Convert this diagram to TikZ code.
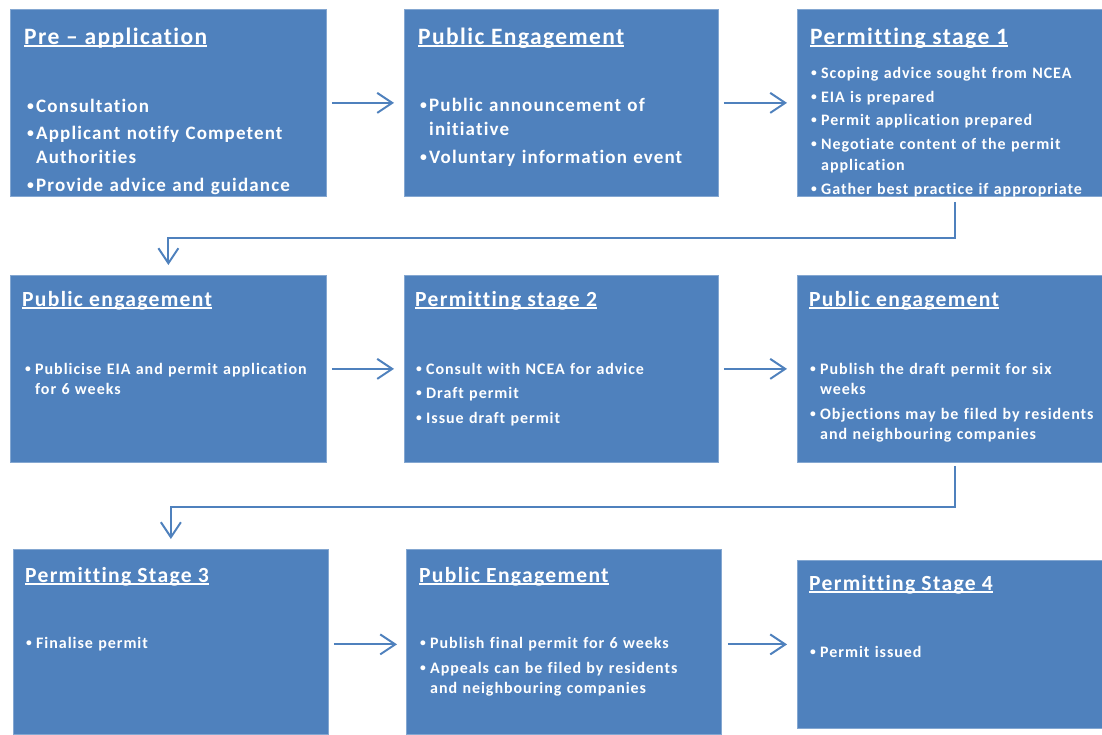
\documentclass[tikz,border=0pt]{standalone}
\usepackage{fontspec}
\usepackage{graphicx}
\setmainfont{Carlito}[LetterSpace=6, Ligatures=NoCommon]
\usetikzlibrary{arrows.meta}
\definecolor{boxblue}{HTML}{4F81BD}
% underlined heading: rule sits just under the baseline
\newcommand\ulhead[1]{\setbox0\hbox{#1}\rlap{\rule[-3pt]{\wd0}{1.6pt}}\box0}
% small bullet and continuation indent
\newcommand\bul[1][10pt]{\makebox[#1][l]{\raisebox{0.1em}{\scalebox{0.72}{\textbullet}}}}
\newcommand\cont[1][10pt]{\hspace*{#1}}
\tikzset{
  stagebox/.style={rectangle, fill=boxblue, draw=boxblue!70!white, line width=0.8pt,
    anchor=north west, inner sep=0pt},
  headL/.style={anchor=base west, inner sep=0pt, text=white,
    font=\fontsize{23.5}{28}\selectfont\bfseries},
  headS/.style={headL, font=\fontsize{21.6}{26}\selectfont\bfseries},
  bodyL/.style={anchor=base west, inner sep=0pt, text=white, align=left,
    text width=290pt, font=\fontsize{19}{24}\selectfont\bfseries},
  bodyS/.style={bodyL, font=\fontsize{16}{20}\selectfont\bfseries},
  flow/.style={draw=boxblue, line width=2pt,
    -{Straight Barb[length=15pt,width=20pt]}}
}
\begin{document}
\begin{tikzpicture}[x=1pt,y=-1pt]
\useasboundingbox (0,0) rectangle (1102,734);

% ---- stage boxes ----
\node[stagebox, minimum width=316pt, minimum height=187pt] (b1) at (10,9) {};
\node[stagebox, minimum width=314pt, minimum height=187pt] (b2) at (404,9) {};
\node[stagebox, minimum width=305pt, minimum height=187pt] (b3) at (797,9) {};
\node[stagebox, minimum width=316pt, minimum height=187pt] (b4) at (10,275) {};
\node[stagebox, minimum width=314pt, minimum height=187pt] (b5) at (404,275) {};
\node[stagebox, minimum width=305pt, minimum height=187pt] (b6) at (797,275) {};
\node[stagebox, minimum width=315pt, minimum height=185pt] (b7) at (13,549) {};
\node[stagebox, minimum width=315pt, minimum height=185pt] (b8) at (406,549) {};
\node[stagebox, minimum width=305pt, minimum height=168pt] (b9) at (797,560) {};

% ---- row 1 ----
\node[headL] (h1) at (24,44) {\ulhead{Pre – application}};
\node[bodyL] (l1) at (27,112) {\bul[9pt]Consultation\\[3.5pt]
  \bul[9pt]Applicant notify Competent\\ \cont[9pt]Authorities\\[3.5pt]
  \bul[9pt]Provide advice and guidance};

\node[headL] (h2) at (418,44) {\ulhead{Public Engagement}};
\node[bodyL] (l2) at (420,111) {\bul[9pt]Public announcement of\\ \cont[9pt]initiative\\[4pt]
  \bul[9pt]Voluntary information event};

\node[headL] (h3) at (810,44) {\ulhead{Permitting stage 1}};
\node[bodyS, text width=285pt, font=\fontsize{16}{21}\selectfont\bfseries] (l3) at (811,78)
  {\bul Scoping advice sought from NCEA\\[3pt]
   \bul EIA is prepared\\[2pt]
   \bul Permit application prepared\\[3pt]
   \bul Negotiate content of the permit\\ \cont application\\[3pt]
   \bul Gather best practice if appropriate};

% ---- row 2 ----
\node[headS] (h4) at (22,306) {\ulhead{Public engagement}};
\node[bodyS] (l4) at (25,374) {\bul Publicise EIA and permit application\\ \cont for 6 weeks};

\node[headS] (h5) at (415,306) {\ulhead{Permitting stage 2}};
\node[bodyS] (l5) at (416,374) {\bul Consult with NCEA for advice\\[4.5pt]
  \bul Draft permit\\[4.5pt]
  \bul Issue draft permit};

\node[headS] (h6) at (809,306) {\ulhead{Public engagement}};
\node[bodyS, text width=290pt] (l6) at (810,374) {\bul Publish the draft permit for six\\ \cont weeks\\[5pt]
  \bul Objections may be filed by residents\\ \cont and neighbouring companies};

% ---- row 3 ----
\node[headS] (h7) at (25,582) {\ulhead{Permitting Stage 3}};
\node[bodyS] (l7) at (26,648) {\bul Finalise permit};

\node[headS] (h8) at (419,582) {\ulhead{Public Engagement}};
\node[bodyS] (l8) at (420,648) {\bul Publish final permit for 6 weeks\\[5pt]
  \bul Appeals can be filed by residents\\ \cont and neighbouring companies};

\node[headS] (h9) at (809,590) {\ulhead{Permitting Stage 4}};
\node[bodyS] (l9) at (810,657) {\bul Permit issued};

% ---- connectors ----
\draw[flow, shorten <=5pt, shorten >=10pt] (b1) -- (b2);
\draw[flow, shorten <=5pt, shorten >=10pt] (b2) -- (b3);
\draw[flow, shorten <=5pt, shorten >=10pt] (b3.south) ++(5,0) -- ++(0,41) -| (b4.north);
\draw[flow, shorten <=5pt, shorten >=10pt] (b4) -- (b5);
\draw[flow, shorten <=5pt, shorten >=10pt] (b5) -- (b6);
\draw[flow, shorten <=3pt, shorten >=10pt] (b6.south) ++(5,0) -- ++(0,44) -| (b7.north);
\draw[flow, shorten <=5pt, shorten >=9pt] (b7.east |- b9.west) -- (b8.west |- b9.west);
\draw[flow, shorten <=6pt, shorten >=10pt] (b8.east |- b9.west) -- (b9.west);
\end{tikzpicture}
\end{document}
